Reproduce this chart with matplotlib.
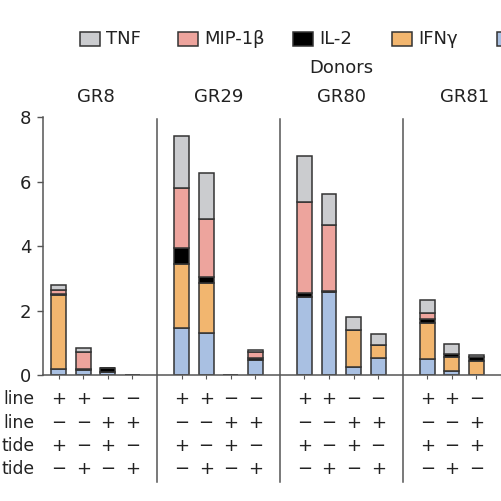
import matplotlib
matplotlib.use('Agg')
import matplotlib.pyplot as plt
from matplotlib.patches import Rectangle
from matplotlib.transforms import blended_transform_factory

plt.rcParams['font.family'] = ['DejaVu Sans']

donors = ['GR8', 'GR29', 'GR80', 'GR81']
# stacked from bottom to top: blue, IFNg, IL-2, MIP-1b, TNF
# GR8 (4 bars), GR29 (4), GR80 (4), GR81 (3 visible)
blue = [0.20, 0.16, 0.10, 0.0,
        1.47, 1.29, 0.0, 0.47,
        2.43, 2.57, 0.24, 0.54,
        0.50, 0.13, 0.0]
ifng = [2.27, 0.02, 0.0, 0.0,
        1.98, 1.56, 0.0, 0.0,
        0.0, 0.0, 1.16, 0.39,
        1.10, 0.44, 0.44]
il2 = [0.03, 0.0, 0.12, 0.0,
       0.50, 0.20, 0.0, 0.05,
       0.10, 0.05, 0.0, 0.0,
       0.13, 0.08, 0.11]
mip1b = [0.13, 0.54, 0.0, 0.0,
         1.85, 1.79, 0.0, 0.20,
         2.84, 2.02, 0.0, 0.0,
         0.20, 0.0, 0.0]
tnf = [0.17, 0.11, 0.01, 0.0,
       1.60, 1.42, 0.0, 0.07,
       1.43, 0.97, 0.39, 0.34,
       0.40, 0.30, 0.06]

legend_labels = ['TNF', 'MIP-1β', 'IL-2', 'IFNγ', '']
row_labels = ['line', 'line', 'tide', 'tide']
row_signs = [['+', '+', '−', '−'],
             ['−', '−', '+', '+'],
             ['+', '−', '+', '−'],
             ['−', '+', '−', '+']]

c_blue = '#a9c0e2'
c_ifng = '#f2b66f'
c_il2 = '#000000'
c_mip = '#eda49d'
c_tnf = '#cbcccf'
edge = '#333333'
txt = '#222222'
axc = '#555555'
fs = 13

W = 501
fig = plt.figure(figsize=(5.01, 5.01), dpi=100)
ax = fig.add_axes([43 / W, 1 - 375 / W, 1 - 43 / W, (375 - 117) / W])

pos = [g * 5 + c for g in range(len(donors)) for c in range(4)][:len(blue)]
bottom = [0.0] * len(pos)
for vals, col in [(blue, c_blue), (ifng, c_ifng), (il2, c_il2),
                  (mip1b, c_mip), (tnf, c_tnf)]:
    ax.bar(pos, vals, width=0.6, bottom=bottom, color=col,
           edgecolor=edge, linewidth=1.1)
    bottom = [b + v for b, v in zip(bottom, vals)]

xmax = (W - 59) / 25.1
ax.set_xlim(-0.64, xmax)
ax.set_ylim(0, 8)
ax.set_yticks([0, 2, 4, 6, 8])
ax.set_xticks([g * 5 + c for g in range(len(donors)) for c in range(4)])
ax.set_xticklabels([])
for s in ['top', 'right']:
    ax.spines[s].set_visible(False)
for s in ['left', 'bottom']:
    ax.spines[s].set_color(axc)
    ax.spines[s].set_linewidth(1.1)
ax.tick_params(axis='y', length=4.5, width=1.0, color=axc, labelsize=fs,
               labelcolor=txt, pad=4)
ax.tick_params(axis='x', length=3, width=0.8, color=axc)

tr = blended_transform_factory(ax.transData, fig.transFigure)

# group separators
for g in range(1, len(donors)):
    ax.plot([g * 5 - 1, g * 5 - 1], [1 - 119 / W, 1 - 482 / W], color=axc,
            linewidth=1.1, transform=tr, clip_on=False)

# donor names
for g, name in enumerate(donors):
    ax.text(g * 5 + 1.5, 1 - 97 / W, name, transform=tr, ha='center',
            va='center', fontsize=fs, color=txt)
ax.text(11.5, 1 - 68 / W, 'Donors', transform=tr, ha='center', va='center',
        fontsize=fs, color=txt)

# condition table (only the columns inside the crop)
row_y = [399, 423, 446, 469]
for r, y in enumerate(row_y):
    fig.text(34 / W, 1 - y / W, row_labels[r], ha='right', va='center',
             fontsize=12.3, color=txt)
    for g in range(len(donors)):
        for c in range(4):
            if g * 5 + c > xmax - 0.3:
                continue
            ax.text(g * 5 + c, 1 - y / W, row_signs[r][c], transform=tr,
                    ha='center', va='center', fontsize=fs, color=txt,
                    clip_on=False)

# legend
legend_x = [80, 178, 293, 392, 497]
legend_cols = [c_tnf, c_mip, c_il2, c_ifng, c_blue]
for x, lab, col in zip(legend_x, legend_labels, legend_cols):
    fig.patches.append(Rectangle((x / W, 1 - 45.5 / W), 20 / W, 13 / W,
                                 facecolor=col, edgecolor=edge, linewidth=1.1,
                                 transform=fig.transFigure))
    if lab:
        fig.text((x + 26) / W, 1 - 39 / W, lab, ha='left', va='center',
                 fontsize=fs, color=txt)

fig.savefig('out.png', dpi=100)
